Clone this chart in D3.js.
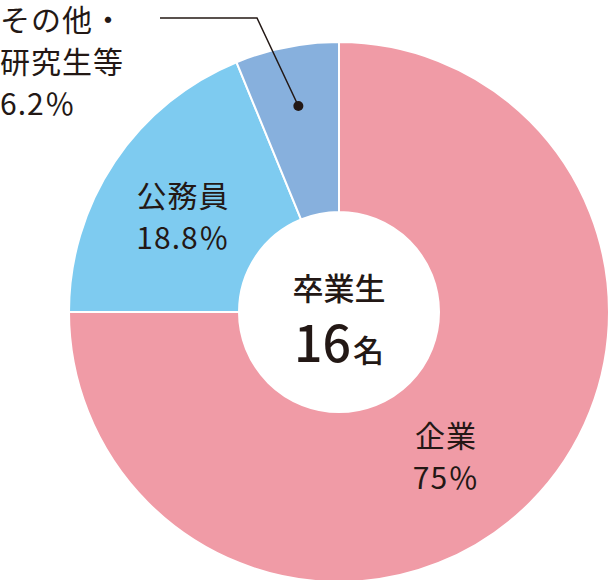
<!DOCTYPE html>
<html lang="ja">
<head>
<meta charset="UTF-8">
<style>
  body { margin: 0; background: #fff; }
  text { font-family: "Noto Sans CJK JP", sans-serif; fill: #231815; }
</style>
</head>
<body>
<svg width="610" height="580"></svg>
<script src="https://d3js.org/d3.v7.min.js"></script>
<script>
// data
const categories = ["企業", "公務員", "その他・研究生等"];
const values = [75, 18.8, 6.2];
const colors = ["#f09ba6", "#7ecbf0", "#87b0dd"];
const total = 16;

const svg = d3.select("svg");
const cx = 339, cy = 312, outerR = 270, innerR = 100;

const pie = d3.pie().sort(null).value(d => d)(values);
const arc = d3.arc().innerRadius(innerR).outerRadius(outerR);

const g = svg.append("g").attr("transform", `translate(${cx},${cy})`);
g.selectAll("path")
  .data(pie)
  .enter().append("path")
  .attr("d", arc)
  .attr("fill", (d, i) => colors[i])
  .attr("stroke", "#fff")
  .attr("stroke-width", 2);

// center label
g.append("text").attr("text-anchor", "middle").attr("y", -12)
  .style("font-size", "31px").style("font-weight", "500").text("卒業生");
const t = g.append("text").attr("text-anchor", "middle").attr("y", 50);
t.append("tspan").style("font-size", "50px").style("font-weight", "500").text(total);
t.append("tspan").style("font-size", "31px").style("font-weight", "500").attr("dx", 2).text("名");

// slice labels
function label(lines, x, y) {
  const el = svg.append("text").attr("x", x).attr("y", y).attr("text-anchor", "middle")
    .style("font-size", "30px").style("letter-spacing", "1px");
  lines.forEach((s, i) => el.append("tspan").attr("x", x).attr("dy", i ? 42 : 0).text(s));
}
label([categories[0], values[0] + "％"], 446, 447);
label([categories[1], values[1] + "％"], 183, 207);

const other = svg.append("text").style("font-size", "30px").style("letter-spacing", "1px");
["その他・", "研究生等", values[2] + "％"].forEach((s, i) =>
  other.append("tspan").attr("x", 0).attr("y", 31 + i * 42).text(s));

// leader line
const mid = (pie[2].startAngle + pie[2].endAngle) / 2;
const dotR = 210;
const dx = cx + dotR * Math.sin(mid), dy = cy - dotR * Math.cos(mid);
svg.append("polyline")
  .attr("points", `160,18 257,18 ${dx},${dy}`)
  .attr("fill", "none").attr("stroke", "#231815").attr("stroke-width", 1.5);
svg.append("circle").attr("cx", dx).attr("cy", dy).attr("r", 5).attr("fill", "#231815");
</script>
</body>
</html>
